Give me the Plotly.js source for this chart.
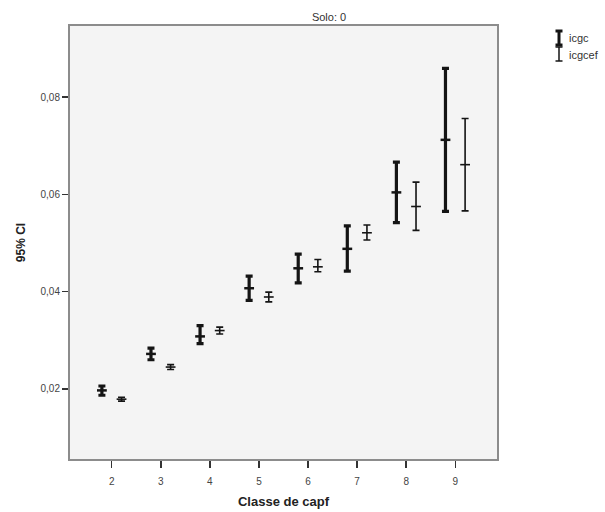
<!DOCTYPE html>
<html>
<head>
<meta charset="utf-8">
<script src="https://cdn.plot.ly/plotly-3.0.1.min.js"></script>
<style>
  html, body { margin: 0; padding: 0; background: #ffffff; }
  #chart { width: 605px; height: 512px; }
</style>
</head>
<body>
<div id="chart"></div>
<script>
// Classes of capf on the x axis
var classes = [2, 3, 4, 5, 6, 7, 8, 9];

// icgc: mean with 95% confidence interval bounds
var icgcMean  = [0.0197, 0.0272, 0.0308, 0.0407, 0.0448, 0.0488, 0.0604, 0.0712];
var icgcUpper = [0.0206, 0.0284, 0.0330, 0.0432, 0.0477, 0.0535, 0.0666, 0.0859];
var icgcLower = [0.0187, 0.0260, 0.0293, 0.0382, 0.0418, 0.0442, 0.0542, 0.0565];

// icgcef: mean with 95% confidence interval bounds
var efMean  = [0.0179, 0.0245, 0.0320, 0.0389, 0.0451, 0.0521, 0.0575, 0.0661];
var efUpper = [0.0183, 0.0250, 0.0327, 0.0399, 0.0466, 0.0537, 0.0625, 0.0756];
var efLower = [0.0175, 0.0240, 0.0313, 0.0379, 0.0441, 0.0506, 0.0526, 0.0566];

var seriesNames = ['icgc', 'icgcef'];
var yTicks = [0.02, 0.04, 0.06, 0.08];

var dodge = 0.2;
var ink = '#141414';

function diff(a, b) { return a.map(function (v, i) { return v - b[i]; }); }

var traceIcgc = {
  type: 'scatter',
  mode: 'markers',
  name: seriesNames[0],
  showlegend: false,
  x: classes.map(function (c) { return c - dodge; }),
  y: icgcMean,
  marker: { symbol: 'line-ew', size: 7, color: ink, line: { color: ink, width: 2.5 } },
  error_y: {
    type: 'data', symmetric: false,
    array: diff(icgcUpper, icgcMean),
    arrayminus: diff(icgcMean, icgcLower),
    color: ink, thickness: 3.2, width: 3.5
  },
  hoverinfo: 'skip'
};

var traceEf = {
  type: 'scatter',
  mode: 'markers',
  name: seriesNames[1],
  showlegend: false,
  x: classes.map(function (c) { return c + dodge; }),
  y: efMean,
  marker: { symbol: 'line-ew', size: 7, color: ink, line: { color: ink, width: 1.6 } },
  error_y: {
    type: 'data', symmetric: false,
    array: diff(efUpper, efMean),
    arrayminus: diff(efMean, efLower),
    color: ink, thickness: 1.6, width: 3.5
  },
  hoverinfo: 'skip'
};

// Legend keys drawn as small capped bars beside the plot (container pixels)
function legendKey(yc, w) {
  var x0 = 559, half = 7, cap = 3.5;
  var line = { color: ink, width: w };
  return [
    { type: 'line', x0: x0, x1: x0, y0: yc - half, y1: yc + half, line: line },
    { type: 'line', x0: x0 - cap, x1: x0 + cap, y0: yc - half, y1: yc - half, line: line },
    { type: 'line', x0: x0 - cap, x1: x0 + cap, y0: yc + half, y1: yc + half, line: line }
  ];
}

var font = 'Liberation Sans, Arial, sans-serif';
var W = 605, H = 512;
var M = { l: 70, r: 108, t: 26, b: 53 };

var legendShapes = legendKey(38, 3).concat(legendKey(54, 1.5));
var legendLabels = [
  { x: 567, y: 38, text: seriesNames[0] },
  { x: 567, y: 55, text: seriesNames[1] }
];

// Container pixels -> paper fractions of the plot area
function pxX(x) { return (x - M.l) / (W - M.l - M.r); }
function pxY(y) { return 1 - (y - M.t) / (H - M.t - M.b); }

var layout = {
  width: W,
  height: H,
  margin: M,
  paper_bgcolor: '#ffffff',
  plot_bgcolor: '#f4f4f4',
  separators: ',.',
  showlegend: false,
  font: { family: font, size: 10, color: '#333333' },
  title: {
    text: 'Solo: 0',
    font: { family: font, size: 11, color: '#333333' },
    xref: 'container', yref: 'container',
    x: 329 / W, xanchor: 'center',
    y: 1 - 17 / H, yanchor: 'middle'
  },
  xaxis: {
    range: [1.15, 9.85],
    tickvals: classes,
    ticktext: classes.map(String),
    ticks: 'outside', ticklen: 7, tickwidth: 1.5, tickcolor: '#333333',
    ticklabelstandoff: 5,
    showgrid: false, zeroline: false,
    showline: true, linecolor: '#8c8c8c', linewidth: 2, mirror: true,
    tickfont: { family: font, size: 10, color: '#444444' },
    title: { text: '<b>Classe de capf</b>', font: { family: font, size: 13, color: '#222222' }, standoff: 11 }
  },
  yaxis: {
    range: [0.0056, 0.0946],
    tickvals: yTicks,
    tickformat: '.2f',
    ticks: 'outside', ticklen: 6, tickwidth: 1.5, tickcolor: '#333333',
    showgrid: false, zeroline: false,
    showline: true, linecolor: '#8c8c8c', linewidth: 2, mirror: true,
    tickfont: { family: font, size: 10, color: '#444444' },
    title: { text: '<b>95% CI</b>', font: { family: font, size: 12, color: '#222222' }, standoff: 12 }
  },
  shapes: legendShapes.map(function (s) {
    return { type: 'line', xref: 'paper', yref: 'paper',
      x0: pxX(s.x0), x1: pxX(s.x1), y0: pxY(s.y0), y1: pxY(s.y1), line: s.line };
  }),
  annotations: legendLabels.map(function (l) {
    return { xref: 'paper', yref: 'paper', x: pxX(l.x), y: pxY(l.y),
      xanchor: 'left', yanchor: 'middle', text: l.text, showarrow: false,
      font: { family: font, size: 11, color: '#333333' } };
  })
};

Plotly.newPlot('chart', [traceIcgc, traceEf], layout, { staticPlot: true, displayModeBar: false });
</script>
</body>
</html>
